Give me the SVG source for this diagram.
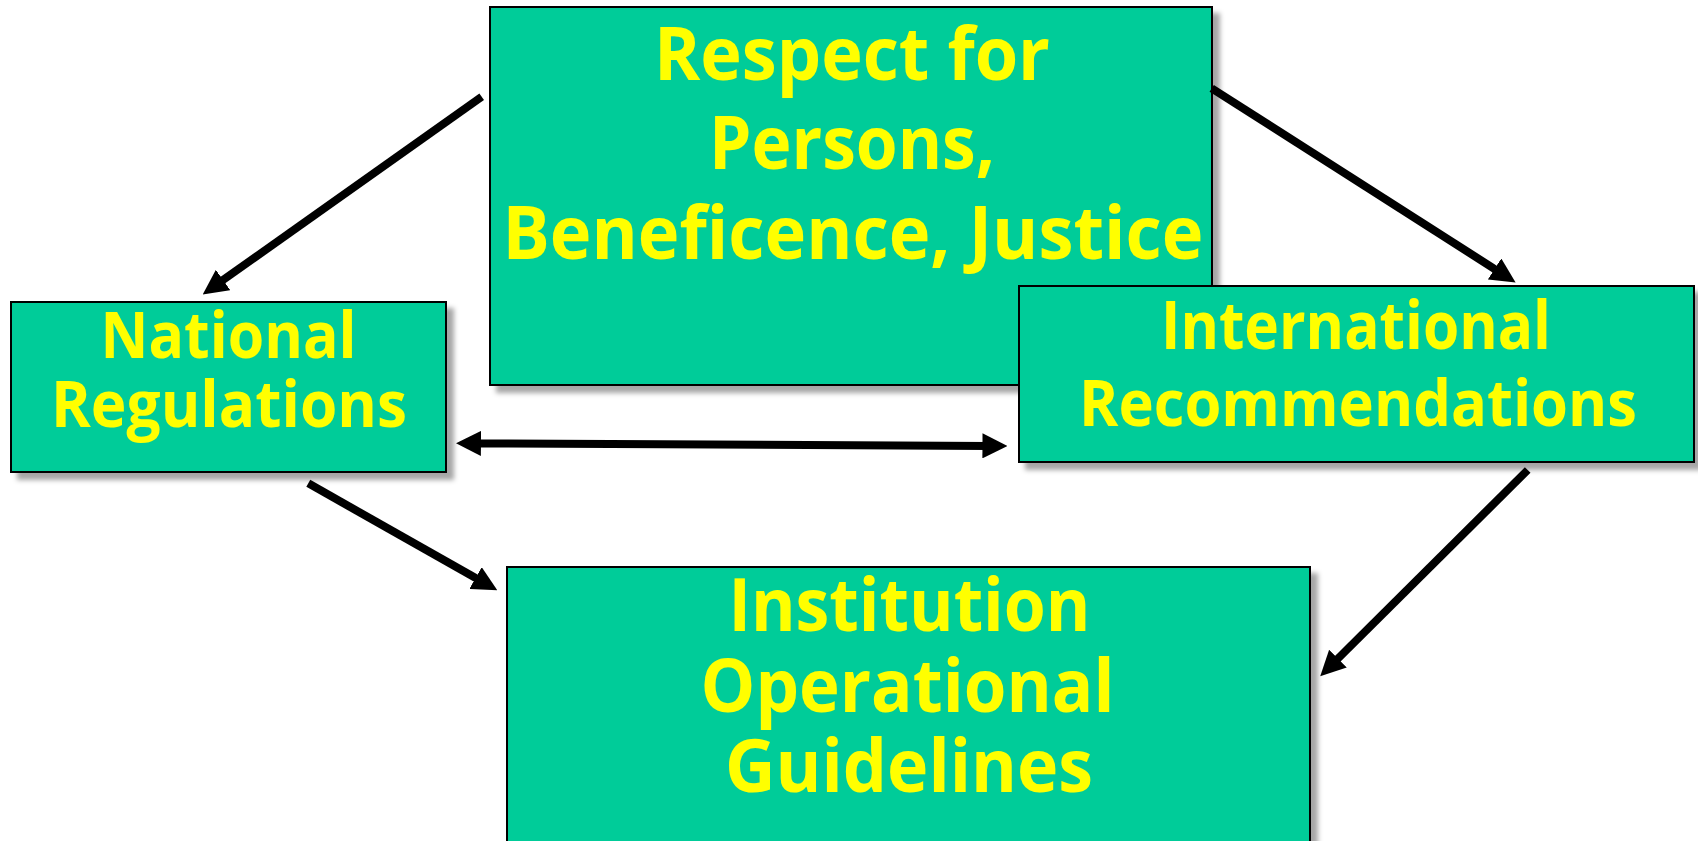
<svg xmlns="http://www.w3.org/2000/svg" width="1698" height="841" viewBox="0 0 1698 841">
<style>
.box{fill:#00CC99;stroke:#000;stroke-width:2;filter:url(#shadow)}
.lbl{fill:#FFFF00;font-family:"Open Sans","Noto Sans","DejaVu Sans",sans-serif;font-weight:bold;text-anchor:middle}
.conn{stroke:#000;stroke-width:8;fill:none;marker-end:url(#ah)}
</style>
<defs>
<filter id="shadow" x="-5%" y="-5%" width="115%" height="120%">
<feDropShadow dx="7" dy="7" stdDeviation="2.5" flood-color="#000" flood-opacity="0.35"/>
</filter>
<marker id="ah" markerUnits="userSpaceOnUse" viewBox="0 0 24 24" markerWidth="25" markerHeight="25" refX="6" refY="12" orient="auto-start-reverse">
<path d="M0,0 L24,12 L0,24 Z" fill="#000"/>
</marker>
</defs>
<rect width="1698" height="841" fill="#fff"/>
<g id="node-principles">
<rect class="box" x="490" y="7" width="722" height="378"/>
<text class="lbl" font-size="74" x="852" y="80" textLength="396" lengthAdjust="spacingAndGlyphs">Respect for</text>
<text class="lbl" font-size="74" x="852" y="169" textLength="286" lengthAdjust="spacingAndGlyphs">Persons,</text>
<text class="lbl" font-size="74" x="853" y="259" textLength="701" lengthAdjust="spacingAndGlyphs">Beneficence, Justice</text>
</g>
<g id="node-national">
<rect class="box" x="11" y="302" width="435" height="170"/>
<text class="lbl" font-size="64" x="228.5" y="358" textLength="256" lengthAdjust="spacingAndGlyphs">National</text>
<text class="lbl" font-size="64" x="229" y="427" textLength="356" lengthAdjust="spacingAndGlyphs">Regulations</text>
</g>
<g id="node-international">
<rect class="box" x="1019" y="286" width="675" height="176"/>
<text class="lbl" font-size="66" x="1356" y="349" textLength="390" lengthAdjust="spacingAndGlyphs">International</text>
<text class="lbl" font-size="64" x="1358" y="426" textLength="558" lengthAdjust="spacingAndGlyphs">Recommendations</text>
</g>
<g id="node-institution">
<rect class="box" x="507" y="567" width="803" height="290"/>
<text class="lbl" font-size="74" x="909.5" y="631" textLength="362" lengthAdjust="spacingAndGlyphs">Institution</text>
<text class="lbl" font-size="74" x="907.5" y="712" textLength="414" lengthAdjust="spacingAndGlyphs">Operational</text>
<text class="lbl" font-size="74" x="909" y="792" textLength="368" lengthAdjust="spacingAndGlyphs">Guidelines</text>
</g>
<g id="connectors">
<line class="conn" x1="481.7" y1="96.7" x2="218" y2="283.6"/>
<line class="conn" x1="1211.7" y1="88.3" x2="1499.8" y2="272.3"/>
<line class="conn" x1="474.7" y1="443.4" x2="988.7" y2="445.9" marker-start="url(#ah)"/>
<line class="conn" x1="308.3" y1="483.3" x2="481" y2="581.1"/>
<line class="conn" x1="1527.7" y1="470" x2="1333.5" y2="663"/>
</g>
</svg>
